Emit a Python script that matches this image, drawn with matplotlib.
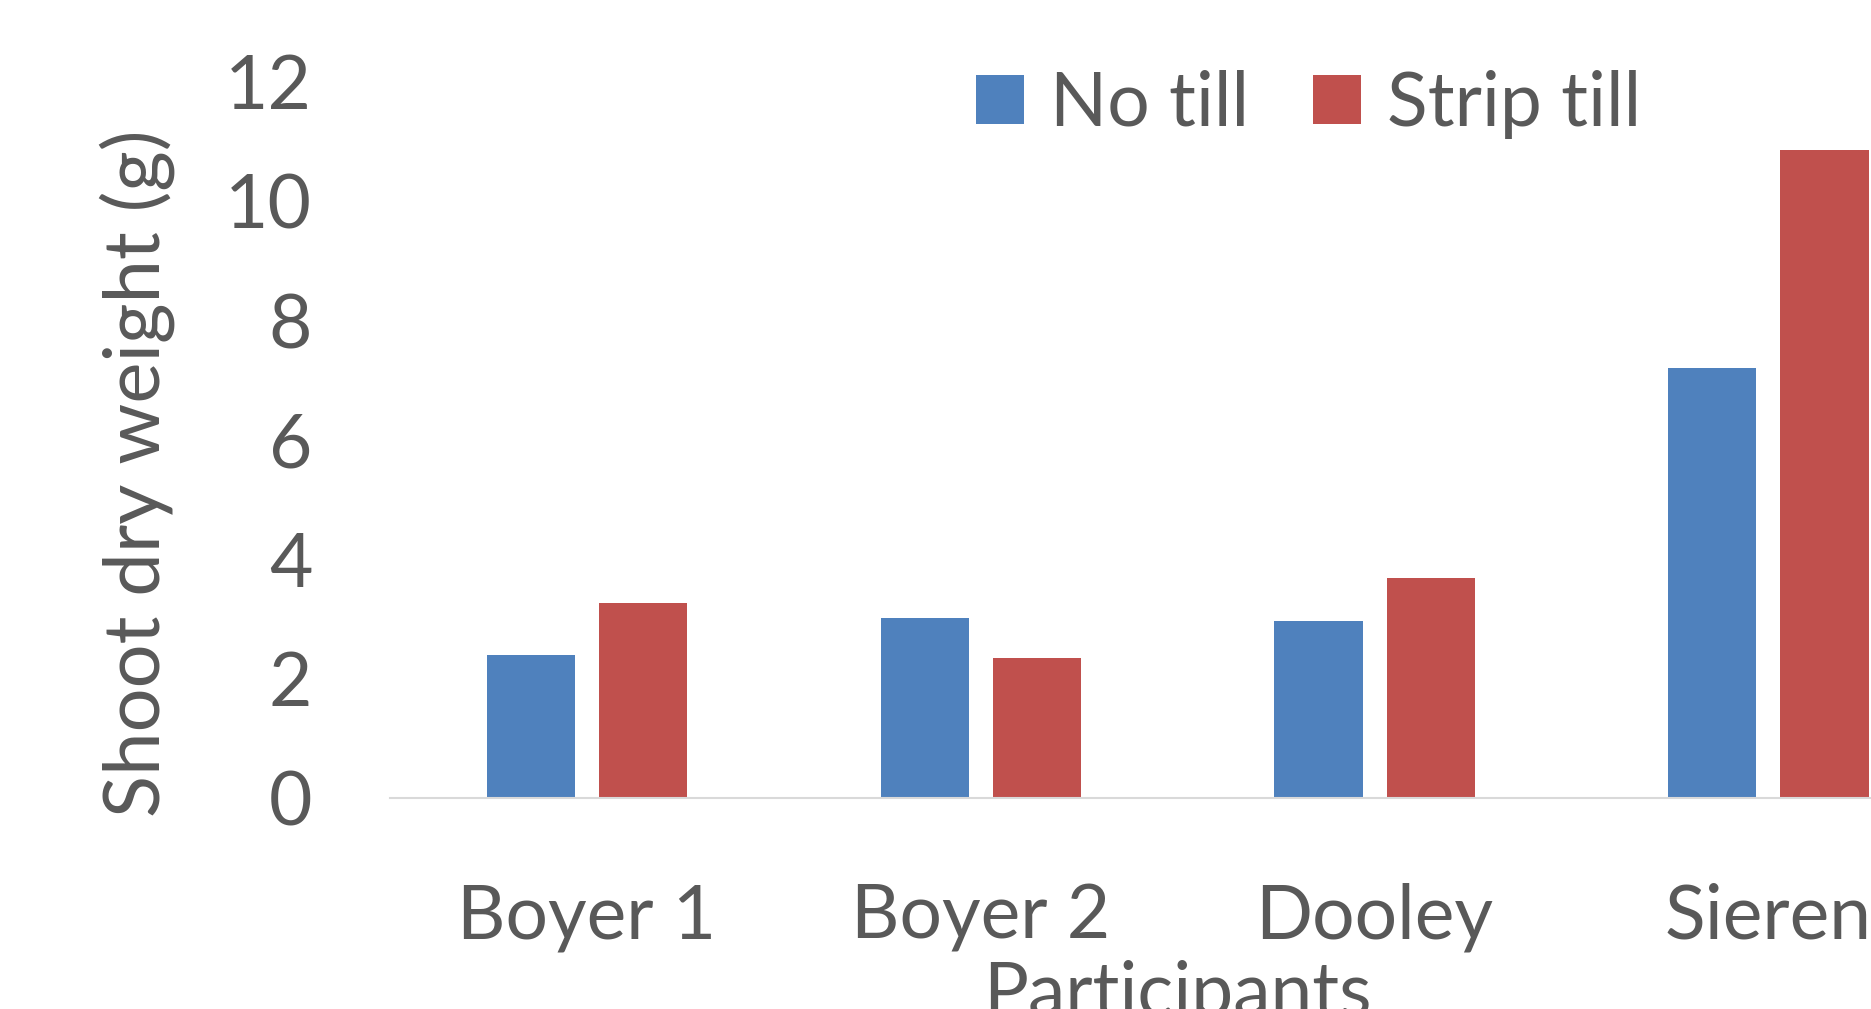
import matplotlib.pyplot as plt
import numpy as np

plt.rcParams['font.family'] = ['Lato', 'DejaVu Sans']

# data
participants = ["Boyer 1", "Boyer 2", "Dooley", "Sieren"]
no_till = [2.40, 3.01, 2.97, 7.19]
strip_till = [3.27, 2.34, 3.69, 10.84]
y_ticks = [0, 2, 4, 6, 8, 10, 12]

text_color = "#595959"
blue = "#4F81BD"
red = "#C0504D"
fs = 54

fig = plt.figure(figsize=(18.71, 10.09), dpi=100)
# axes runs off the right edge, like the cropped original
ax = fig.add_axes([0.2085, 0.2092, 0.8419, 0.7104])

x = np.arange(len(participants))
w = 0.224
off = 0.1424
ax.bar(x - off, no_till, width=w, color=blue, label="No till")
ax.bar(x + off, strip_till, width=w, color=red, label="Strip till")

ax.set_xlim(-0.5, 3.5)
ax.set_ylim(0, 12)
ax.set_yticks(y_ticks)
ax.set_xticks(x)
ax.set_xticklabels(participants)

for side in ["top", "right", "left"]:
    ax.spines[side].set_visible(False)
ax.spines["bottom"].set_color("#D9D9D9")
ax.spines["bottom"].set_linewidth(1.5)

ax.tick_params(axis="y", length=0, pad=56, labelsize=fs, labelcolor=text_color)
ax.tick_params(axis="x", length=0, pad=61, labelsize=fs, labelcolor=text_color)

fig.text(0.0733, 0.531, "Shoot dry weight (g)", rotation=90, ha="center",
         va="center", fontsize=fs + 2, color=text_color)
fig.text(0.6295, -0.007, "Participants", ha="center", va="baseline",
         fontsize=fs, color=text_color)

leg = ax.legend(ncol=2, frameon=False, fontsize=fs, loc="center left",
                bbox_to_anchor=(818 / 1568, 1 - 87.5 / 846),
                bbox_transform=fig.transFigure, borderaxespad=0, borderpad=0,
                handlelength=0.64, handleheight=0.64, handletextpad=0.35,
                columnspacing=0.85)
for t in leg.get_texts():
    t.set_color(text_color)

fig.savefig("out.png", dpi=100)
